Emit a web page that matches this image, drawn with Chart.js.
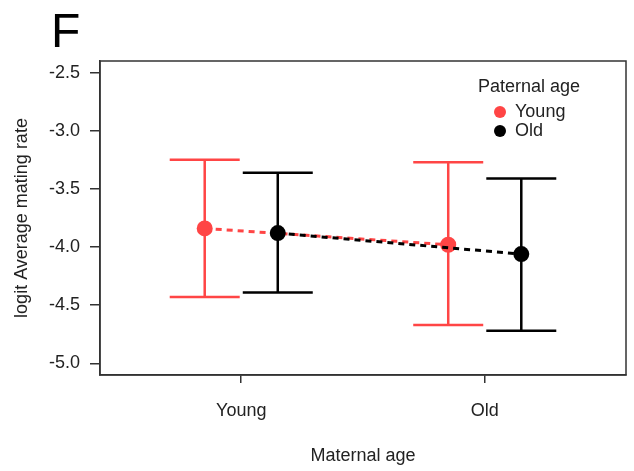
<!DOCTYPE html>
<html>
<head>
<meta charset="utf-8">
<script src="https://cdn.jsdelivr.net/npm/chart.js@4"></script>
<style>
  html, body { margin: 0; padding: 0; background: #fff; }
  #wrap { position: relative; width: 634px; height: 471px; }
</style>
</head>
<body>
<div id="wrap"><canvas id="myChart" width="634" height="471"></canvas></div>
<script>
// data
const panel = 'F';
const maternalAge = ['Young', 'Old'];
const legendTitle = 'Paternal age';
const paternalAge = ['Young', 'Old'];

const youngMean  = [-3.84, -3.98];
const youngUpper = [-3.25, -3.27];
const youngLower = [-4.43, -4.67];

const oldMean  = [-3.88, -4.06];
const oldUpper = [-3.36, -3.41];
const oldLower = [-4.39, -4.72];

const yTicks = [-2.5, -3.0, -3.5, -4.0, -4.5, -5.0];

const RED = '#ff4545';
const BLACK = '#000000';
const FONT = '"Liberation Sans", Arial, sans-serif';
const dodge = 0.15;

function points(means, shift) {
    return means.map((v, i) => ({ x: i + 1 + shift, y: v }));
}

const series = [
    { label: paternalAge[0], mean: youngMean, hi: youngUpper, lo: youngLower, color: RED, shift: -dodge, order: 2 },
    { label: paternalAge[1], mean: oldMean, hi: oldUpper, lo: oldLower, color: BLACK, shift: dodge, order: 1 }
];

// box, error bars, legend, panel letter
const extras = {
    id: 'extras',
    beforeDatasetsDraw(chart) {
        const ctx = chart.ctx;
        const xs = chart.scales.x, ys = chart.scales.y;
        ctx.save();
        ctx.lineWidth = 2.5;
        series.forEach(s => {
            ctx.strokeStyle = s.color;
            s.mean.forEach((m, i) => {
                const px = xs.getPixelForValue(i + 1 + s.shift);
                const top = ys.getPixelForValue(s.hi[i]);
                const bot = ys.getPixelForValue(s.lo[i]);
                ctx.beginPath();
                ctx.moveTo(px, top); ctx.lineTo(px, bot);
                ctx.moveTo(px - 35, top); ctx.lineTo(px + 35, top);
                ctx.moveTo(px - 35, bot); ctx.lineTo(px + 35, bot);
                ctx.stroke();
            });
        });
        ctx.restore();
    },
    afterDraw(chart) {
        const ctx = chart.ctx;
        const a = chart.chartArea;
        ctx.save();
        ctx.strokeStyle = '#333';
        ctx.lineWidth = 1.5;
        ctx.strokeRect(a.left, a.top, a.right - a.left, a.bottom - a.top);

        ctx.fillStyle = '#000';
        ctx.font = '48px ' + FONT;
        ctx.textBaseline = 'alphabetic';
        ctx.textAlign = 'left';
        ctx.fillText(panel, 51, 47);

        ctx.font = '18px ' + FONT;
        ctx.fillStyle = '#222';
        ctx.textBaseline = 'middle';
        ctx.fillText(legendTitle, 478, 87);
        series.forEach((s, i) => {
            const y = 112 + i * 19;
            ctx.fillStyle = s.color;
            ctx.beginPath();
            ctx.arc(500, y, 6, 0, Math.PI * 2);
            ctx.fill();
            ctx.fillStyle = '#222';
            ctx.fillText(s.label, 515, y);
        });
        ctx.restore();
    }
};

const ctx = document.getElementById('myChart').getContext('2d');
new Chart(ctx, {
    type: 'scatter',
    data: {
        datasets: series.map(s => ({
            label: s.label,
            data: points(s.mean, s.shift),
            order: s.order,
            showLine: true,
            borderColor: s.color,
            borderWidth: 3,
            borderDash: [6, 5],
            pointRadius: 8,
            pointHoverRadius: 8,
            pointBackgroundColor: s.color,
            pointBorderWidth: 0
        }))
    },
    options: {
        responsive: false,
        animation: false,
        layout: { padding: { top: 61, right: 5, left: 0, bottom: 0 } },
        plugins: { legend: { display: false }, tooltip: { enabled: false } },
        scales: {
            x: {
                type: 'linear',
                min: 0.42,
                max: 2.58,
                afterFit(scale) { scale.height = 96; },
                afterBuildTicks(scale) { scale.ticks = maternalAge.map((c, i) => ({ value: i + 1 })); },
                grid: { drawOnChartArea: false, drawTicks: true, tickLength: 8, color: '#333', lineWidth: 1.5 },
                border: { display: true, color: '#333', width: 1.5 },
                ticks: {
                    color: '#222',
                    font: { family: FONT, size: 18 },
                    padding: 17,
                    maxRotation: 0,
                    callback: (v) => maternalAge[Math.round(v) - 1]
                },
                title: {
                    display: true,
                    text: 'Maternal age',
                    color: '#222',
                    font: { family: FONT, size: 18 },
                    padding: { top: 0, bottom: 4 }
                }
            },
            y: {
                type: 'linear',
                min: -5.1,
                max: -2.4,
                afterFit(scale) { scale.width = 100; },
                afterBuildTicks(scale) { scale.ticks = yTicks.map(v => ({ value: v })); },
                grid: { drawOnChartArea: false, drawTicks: true, tickLength: 10, color: '#333', lineWidth: 1.5 },
                border: { display: true, color: '#333', width: 1.5 },
                ticks: {
                    color: '#222',
                    font: { family: FONT, size: 18 },
                    padding: 10,
                    callback: (v) => v.toFixed(1)
                },
                title: {
                    display: true,
                    text: 'logit Average mating rate',
                    color: '#222',
                    font: { family: FONT, size: 18 },
                    padding: { top: 11, bottom: 0 }
                }
            }
        }
    },
    plugins: [extras]
});
</script>
</body>
</html>
